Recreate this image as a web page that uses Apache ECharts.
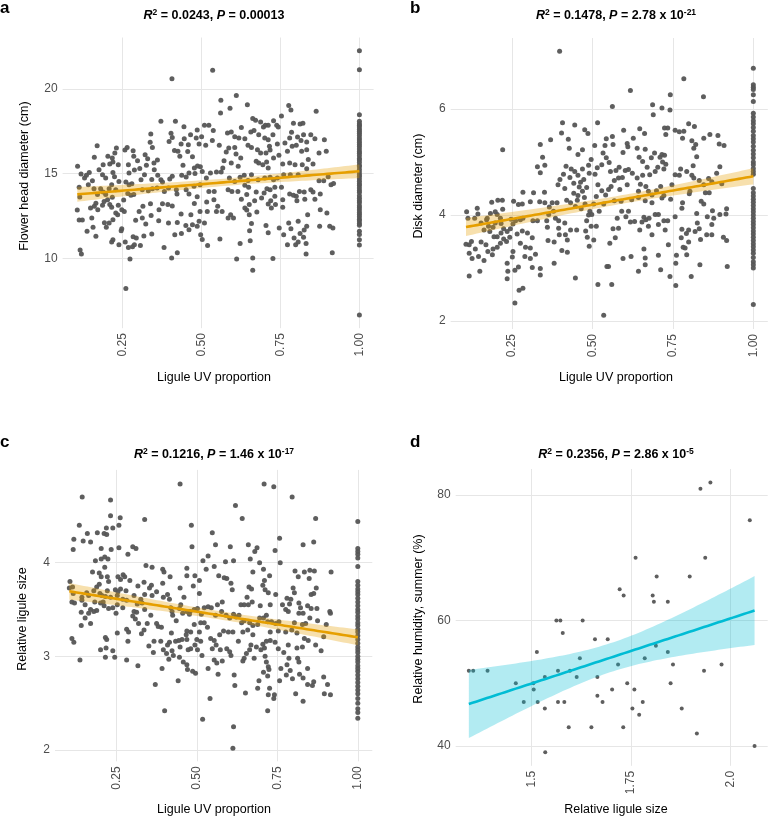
<!DOCTYPE html>
<html><head><meta charset="utf-8">
<script src="https://cdn.jsdelivr.net/npm/echarts@6/dist/echarts.min.js"></script>
<style>html,body{margin:0;padding:0;background:#fff}#c{width:768px;height:817px}</style>
</head><body><div id="c"></div>
<script>
// ---------- Panel a: Ligule UV proportion vs flower head diameter ----------
const aPts = [[0.535,21.1],[0.406,20.61],[0.371,18.09],[0.417,18.09],[0.339,17.34],[0.403,17.38],[0.407,17.14],[0.397,16.9],[0.444,17.77],[0.465,17.3],[0.486,17.58],[0.509,17.85],[0.523,17.85],[0.537,17.54],[0.5,17.18],[0.445,17.06],[0.483,17.1],[0.435,16.75],[0.458,16.71],[0.492,16.75],[0.513,16.67],[0.534,16.95],[0.337,16.85],[0.344,16.55],[0.414,16.36],[0.425,16.32],[0.431,16.02],[0.456,16.3],[0.471,16.0],[0.477,15.33],[0.487,15.45],[0.496,15.41],[0.502,15.13],[0.479,15.0],[0.46,15.04],[0.451,14.8],[0.441,15.49],[0.437,14.9],[0.515,14.74],[0.528,15.04],[0.547,15.1],[0.523,13.95],[0.54,13.95],[0.516,13.32],[0.518,12.77],[0.551,13.07],[0.509,12.08],[0.495,12.77],[0.492,12.18],[0.486,11.89],[0.466,12.57],[0.435,12.61],[0.423,12.12],[0.415,11.39],[0.423,10.33],[0.405,10.01],[0.381,10.64],[0.364,12.22],[0.376,13.22],[0.393,13.17],[0.407,13.09],[0.422,13.8],[0.42,14.05],[0.395,14.15],[0.382,13.95],[0.371,14.64],[0.361,14.9],[0.35,15.23],[0.349,15.63],[0.36,15.8],[0.329,15.88],[0.325,15.49],[0.321,16.12],[0.304,15.3],[0.297,15.76],[0.285,16.02],[0.283,16.35],[0.268,15.53],[0.264,16.55],[0.257,16.39],[0.23,16.51],[0.225,16.22],[0.217,15.92],[0.209,15.57],[0.219,15.06],[0.224,14.82],[0.236,15.53],[0.238,14.54],[0.26,14.5],[0.27,14.35],[0.279,14.4],[0.266,13.83],[0.276,13.72],[0.285,13.76],[0.312,14.05],[0.331,13.99],[0.344,14.11],[0.359,14.15],[0.314,13.07],[0.302,12.77],[0.291,12.24],[0.312,12.38],[0.323,12.02],[0.338,13.22],[0.34,12.53],[0.342,11.43],[0.317,11.31],[0.293,11.2],[0.283,11.27],[0.281,10.68],[0.268,10.64],[0.258,10.96],[0.287,10.8],[0.306,10.76],[0.273,9.95],[0.26,8.22],[0.255,12.77],[0.247,12.87],[0.236,13.13],[0.234,12.57],[0.228,12.67],[0.219,12.28],[0.215,13.01],[0.209,13.17],[0.207,12.08],[0.198,11.83],[0.247,11.75],[0.245,11.63],[0.219,11.1],[0.215,10.96],[0.238,10.8],[0.192,12.1],[0.191,13.36],[0.202,13.46],[0.196,13.76],[0.188,13.92],[0.18,14.11],[0.207,14.11],[0.215,14.35],[0.196,14.74],[0.186,14.94],[0.175,15.23],[0.188,15.53],[0.203,16.02],[0.219,15.69],[0.16,15.96],[0.169,16.65],[0.144,15.06],[0.135,14.9],[0.154,14.58],[0.141,14.35],[0.159,14.11],[0.17,13.76],[0.165,13.25],[0.148,12.97],[0.16,13.07],[0.171,12.87],[0.152,12.38],[0.156,11.83],[0.165,11.3],[0.137,11.59],[0.106,12.85],[0.112,12.26],[0.122,12.26],[0.115,10.49],[0.119,10.25],[0.107,15.43],[0.118,14.98],[0.112,14.19],[0.114,13.62],[0.129,14.74],[0.186,13.13],[0.228,14.05],[0.253,13.44],[0.217,13.6],[0.308,14.64],[0.319,14.94],[0.365,12.87],[0.395,12.08],[0.436,11.47],[0.45,11.94],[0.46,11.69],[0.471,11.98],[0.477,13.24],[0.486,13.64],[0.46,13.8],[0.451,14.05],[0.476,14.25],[0.495,14.35],[0.497,11.39],[0.502,11.11],[0.519,10.76],[0.539,13.46],[0.547,12.77],[0.376,14.5],[0.399,14.68],[0.407,14.84],[0.287,15.22],[0.342,14.66],[0.27,15.04],
[0.61,19.62],[0.561,19.33],[0.56,18.58],[0.59,18.86],[0.645,19.07],[0.776,19.03],[0.783,18.76],[0.863,18.68],[0.753,18.4],[0.662,18.25],[0.671,18.15],[0.687,18.05],[0.702,17.85],[0.711,17.85],[0.728,18.13],[0.738,17.85],[0.743,17.75],[0.696,17.75],[0.791,17.97],[0.812,17.93],[0.821,17.97],[0.785,17.44],[0.779,17.1],[0.804,17.16],[0.823,17.3],[0.846,17.3],[0.859,17.06],[0.889,17.0],[0.582,17.4],[0.594,17.46],[0.605,17.18],[0.618,17.1],[0.626,17.73],[0.637,17.06],[0.656,17.46],[0.666,17.54],[0.681,17.3],[0.647,16.67],[0.658,16.55],[0.605,16.55],[0.586,16.51],[0.578,16.28],[0.556,16.67],[0.609,16.16],[0.624,15.92],[0.616,15.43],[0.594,15.63],[0.571,15.76],[0.567,15.33],[0.562,15.1],[0.7,17.1],[0.711,17.0],[0.726,17.3],[0.74,16.75],[0.764,16.81],[0.715,16.61],[0.677,16.41],[0.687,16.22],[0.704,16.22],[0.717,16.39],[0.681,15.63],[0.673,15.73],[0.694,15.53],[0.706,15.69],[0.711,15.33],[0.728,15.92],[0.745,16.08],[0.757,15.57],[0.779,15.63],[0.796,15.53],[0.772,16.32],[0.787,16.61],[0.8,16.67],[0.817,16.32],[0.833,16.41],[0.815,16.95],[0.833,16.87],[0.872,16.22],[0.895,16.32],[0.838,15.83],[0.853,15.57],[0.833,15.29],[0.819,15.53],[0.806,14.94],[0.781,14.94],[0.76,14.94],[0.74,14.74],[0.728,14.64],[0.717,14.78],[0.7,14.74],[0.679,14.64],[0.658,14.94],[0.647,14.6],[0.635,14.9],[0.622,14.78],[0.605,14.54],[0.588,14.74],[0.584,14.05],[0.596,13.95],[0.615,13.95],[0.637,14.31],[0.649,14.19],[0.643,13.76],[0.673,13.92],[0.698,13.85],[0.707,14.11],[0.717,14.05],[0.732,14.19],[0.753,14.19],[0.779,13.8],[0.8,13.66],[0.81,13.95],[0.825,13.92],[0.846,14.05],[0.853,13.92],[0.876,13.8],[0.872,14.58],[0.887,14.58],[0.901,14.82],[0.91,14.35],[0.918,14.41],[0.791,13.72],[0.802,13.4],[0.827,13.48],[0.859,13.48],[0.719,13.4],[0.732,13.66],[0.711,13.21],[0.721,12.97],[0.734,13.17],[0.757,13.46],[0.757,13.01],[0.69,13.56],[0.668,13.4],[0.651,13.17],[0.626,13.48],[0.637,12.97],[0.643,12.85],[0.651,12.57],[0.675,12.73],[0.658,12.06],[0.652,11.63],[0.592,12.57],[0.601,12.38],[0.584,12.38],[0.565,12.77],[0.558,11.14],[0.622,10.88],[0.654,11.04],[0.611,9.96],[0.662,10.02],[0.662,9.29],[0.726,9.98],[0.704,11.94],[0.711,11.51],[0.746,11.79],[0.76,11.39],[0.772,10.8],[0.776,12.08],[0.783,11.75],[0.793,11.2],[0.798,10.8],[0.806,10.96],[0.806,12.18],[0.812,11.47],[0.825,11.67],[0.823,11.24],[0.831,10.88],[0.833,11.89],[0.831,10.25],[0.836,12.57],[0.874,11.89],[0.897,12.67],[0.906,11.89],[0.916,11.79],[0.914,10.33],[0.876,12.87]];
// samples with ligule UV proportion = 1.00
const aFull = [22.26,21.14,18.48,18.1,17.95,17.85,17.75,17.62,17.5,17.38,17.25,17.1,16.98,16.85,16.72,16.6,16.45,16.3,16.2,16.05,15.9,15.8,15.65,15.5,15.4,15.25,15.1,14.95,14.85,14.7,14.55,14.4,14.3,14.15,14.0,13.88,13.7,13.55,13.4,13.28,13.1,12.98,12.85,12.7,12.58,12.45,12.3,12.2,12.05,11.95,11.6,11.4,11.1,10.78,6.65];

// ---------- Panel b: Ligule UV proportion vs disk diameter ----------
const bPts = [[0.398,7.09],[0.221,5.23],[0.407,5.74],[0.445,5.7],[0.404,5.55],[0.425,5.43],[0.37,5.42],[0.338,5.33],[0.345,5.09],[0.329,4.91],[0.338,4.8],[0.352,4.94],[0.428,5.26],[0.455,5.14],[0.469,5.23],[0.476,5.61],[0.486,5.54],[0.516,5.74],[0.507,5.31],[0.533,5.17],[0.529,4.95],[0.418,4.92],[0.434,4.87],[0.445,4.82],[0.41,4.77],[0.399,4.67],[0.393,4.57],[0.414,4.5],[0.43,4.71],[0.455,4.75],[0.463,4.62],[0.473,4.67],[0.459,4.53],[0.469,4.45],[0.482,4.52],[0.49,4.79],[0.508,4.77],[0.517,4.57],[0.529,4.46],[0.541,4.38],[0.442,4.41],[0.455,4.37],[0.475,4.33],[0.42,4.28],[0.39,4.23],[0.375,4.23],[0.351,4.43],[0.336,4.25],[0.317,4.42],[0.284,4.43],[0.282,4.21],[0.27,4.2],[0.255,4.26],[0.22,4.28],[0.206,4.28],[0.187,4.24],[0.221,4.11],[0.198,4.06],[0.183,4.03],[0.173,3.94],[0.142,4.13],[0.144,4.02],[0.109,4.06],[0.113,3.94],[0.134,3.94],[0.154,3.85],[0.163,3.72],[0.171,3.91],[0.177,3.79],[0.191,3.77],[0.204,4.01],[0.214,3.94],[0.247,3.92],[0.261,3.89],[0.276,3.91],[0.284,3.94],[0.315,3.89],[0.329,3.89],[0.358,3.89],[0.364,4.01],[0.36,3.77],[0.379,4.07],[0.395,3.75],[0.397,3.63],[0.416,3.63],[0.432,3.72],[0.451,3.72],[0.422,3.53],[0.405,3.33],[0.422,3.3],[0.381,3.09],[0.338,2.99],[0.338,2.87],[0.292,3.39],[0.307,3.38],[0.29,3.22],[0.307,3.18],[0.276,3.47],[0.282,3.7],[0.298,3.66],[0.313,3.57],[0.266,3.64],[0.253,3.83],[0.245,3.74],[0.235,3.69],[0.224,3.74],[0.216,3.66],[0.204,3.59],[0.224,3.55],[0.214,3.47],[0.204,3.39],[0.233,3.5],[0.243,3.58],[0.253,3.31],[0.251,3.21],[0.235,3.09],[0.237,2.94],[0.235,2.8],[0.27,3.02],[0.259,2.96],[0.272,2.58],[0.284,2.62],[0.259,2.34],[0.189,3.25],[0.191,3.36],[0.175,3.31],[0.169,3.44],[0.154,3.49],[0.136,3.36],[0.124,3.5],[0.117,3.44],[0.107,3.45],[0.117,3.28],[0.126,3.18],[0.146,3.22],[0.163,3.14],[0.15,2.94],[0.117,2.85],[0.194,3.59],[0.181,3.69],[0.216,3.84],[0.198,3.85],[0.307,4.25],[0.352,4.23],[0.366,4.15],[0.385,3.94],[0.414,3.85],[0.362,3.52],[0.381,3.49],[0.313,3.01],[0.323,3.26],[0.447,2.81],[0.517,2.69],[0.535,2.11],[0.545,3.03],[0.395,3.89],[0.442,4.6],[0.492,4.07],[0.488,4.0],[0.482,3.89],[0.498,4.01],[0.479,3.7],[0.484,3.58],[0.49,3.41],[0.504,3.53],[0.496,3.79],[0.512,3.79],[0.477,4.21],[0.465,4.12],[0.447,4.16],[0.432,4.23],[0.453,4.28],[0.521,4.07],[0.504,4.21],[0.535,4.21],[0.512,4.35],[0.488,4.94],[0.469,4.87],[0.496,5.05],[0.515,4.89],[0.543,5.08],[0.539,5.31],[0.543,5.44],
[0.618,6.35],[0.784,6.57],[0.742,6.27],[0.845,6.23],[0.562,6.05],[0.687,6.08],[0.716,6.02],[0.741,5.98],[0.689,5.89],[0.799,5.72],[0.817,5.67],[0.724,5.64],[0.734,5.64],[0.757,5.6],[0.77,5.57],[0.784,5.58],[0.78,5.45],[0.662,5.54],[0.647,5.63],[0.597,5.6],[0.728,5.52],[0.846,5.45],[0.865,5.52],[0.89,5.5],[0.894,5.34],[0.909,5.31],[0.809,5.4],[0.821,5.33],[0.815,5.26],[0.562,5.48],[0.564,5.33],[0.595,5.18],[0.608,5.35],[0.61,5.29],[0.627,5.45],[0.639,5.26],[0.664,5.24],[0.645,5.09],[0.656,5.01],[0.67,4.9],[0.683,5.08],[0.693,5.17],[0.71,5.09],[0.716,5.14],[0.724,5.13],[0.718,5.0],[0.728,4.96],[0.722,4.87],[0.695,4.82],[0.703,4.9],[0.678,4.76],[0.656,4.75],[0.639,4.7],[0.624,4.79],[0.612,4.86],[0.602,4.84],[0.583,4.9],[0.573,4.84],[0.556,4.82],[0.552,4.99],[0.581,4.7],[0.593,4.71],[0.568,4.65],[0.558,4.54],[0.55,4.48],[0.585,4.48],[0.608,4.57],[0.649,4.58],[0.666,4.54],[0.643,4.45],[0.674,4.45],[0.699,4.46],[0.685,4.38],[0.712,4.54],[0.716,4.32],[0.722,4.37],[0.747,4.57],[0.757,4.76],[0.77,4.75],[0.793,4.82],[0.774,4.87],[0.809,4.75],[0.813,4.93],[0.824,5.1],[0.815,4.7],[0.832,4.65],[0.846,4.57],[0.861,4.69],[0.871,4.63],[0.886,4.79],[0.896,4.91],[0.902,4.59],[0.851,4.42],[0.863,4.42],[0.838,4.26],[0.846,4.21],[0.78,4.23],[0.778,4.13],[0.803,4.45],[0.801,4.4],[0.743,4.3],[0.824,4.03],[0.826,3.85],[0.873,4.08],[0.877,3.94],[0.896,4.01],[0.917,4.12],[0.915,4.02],[0.857,3.97],[0.871,3.82],[0.855,3.63],[0.871,3.63],[0.907,3.58],[0.917,3.52],[0.919,3.03],[0.834,3.06],[0.807,2.84],[0.759,2.67],[0.741,2.84],[0.761,3.24],[0.793,3.25],[0.788,3.38],[0.782,3.39],[0.799,3.49],[0.776,3.57],[0.792,3.65],[0.799,3.72],[0.778,3.73],[0.819,3.69],[0.832,3.74],[0.836,3.54],[0.757,3.97],[0.726,3.72],[0.734,3.89],[0.722,3.89],[0.705,4.01],[0.695,4.01],[0.676,3.94],[0.666,3.91],[0.654,3.87],[0.66,3.96],[0.674,3.79],[0.647,3.72],[0.631,3.88],[0.618,3.87],[0.604,3.97],[0.612,4.07],[0.591,4.07],[0.577,3.94],[0.564,3.74],[0.581,3.75],[0.571,3.57],[0.554,3.47],[0.589,4.26],[0.568,4.27],[0.622,4.29],[0.643,4.33],[0.664,4.27],[0.685,4.23],[0.705,3.82],[0.685,3.63],[0.66,3.36],[0.664,3.19],[0.664,3.06],[0.643,2.94],[0.705,3.24],[0.712,2.97],[0.62,3.22],[0.595,3.18],[0.55,3.03],[0.56,2.69],[0.759,3.09],[0.736,3.44]];
const bFull = [6.77,6.46,6.41,6.37,6.27,6.14,5.92,5.85,5.78,5.72,5.65,5.58,5.5,5.44,5.38,5.3,5.22,5.15,5.08,5.0,4.95,4.88,4.82,4.77,4.5,4.42,4.36,4.3,4.24,4.18,4.12,4.06,4.0,3.94,3.88,3.82,3.76,3.7,3.64,3.58,3.52,3.46,3.4,3.34,3.28,3.2,3.12,3.06,3.0,2.31];

// ---------- Panel c: Ligule UV proportion vs relative ligule size ----------
const cPts = [[0.448,4.84],[0.144,4.7],[0.232,4.67],[0.232,4.5],[0.262,4.48],[0.338,4.46],[0.135,4.4],[0.16,4.31],[0.191,4.32],[0.212,4.31],[0.22,4.3],[0.219,4.37],[0.239,4.37],[0.258,4.4],[0.483,4.4],[0.118,4.25],[0.147,4.23],[0.17,4.22],[0.116,4.14],[0.203,4.15],[0.234,4.14],[0.258,4.16],[0.301,4.17],[0.311,4.15],[0.485,4.17],[0.185,4.02],[0.203,4.04],[0.214,4.06],[0.224,4.04],[0.286,4.09],[0.342,3.97],[0.361,3.95],[0.394,3.93],[0.398,3.9],[0.469,3.94],[0.519,4.02],[0.535,4.07],[0.548,4.32],[0.529,3.93],[0.214,3.95],[0.176,3.9],[0.197,3.89],[0.203,3.85],[0.222,3.85],[0.226,3.8],[0.255,3.85],[0.263,3.82],[0.271,3.87],[0.276,3.85],[0.292,3.81],[0.317,3.75],[0.336,3.79],[0.359,3.76],[0.353,3.73],[0.394,3.78],[0.417,3.85],[0.469,3.86],[0.494,3.86],[0.489,3.75],[0.508,3.81],[0.448,3.73],[0.396,3.63],[0.409,3.66],[0.415,3.61],[0.46,3.63],[0.508,3.67],[0.106,3.8],[0.104,3.73],[0.114,3.74],[0.116,3.67],[0.143,3.63],[0.158,3.68],[0.164,3.65],[0.18,3.7],[0.189,3.74],[0.197,3.77],[0.199,3.67],[0.205,3.65],[0.216,3.64],[0.209,3.58],[0.222,3.7],[0.247,3.71],[0.255,3.69],[0.263,3.72],[0.28,3.7],[0.305,3.65],[0.326,3.61],[0.338,3.66],[0.33,3.57],[0.375,3.69],[0.419,3.52],[0.423,3.48],[0.446,3.51],[0.45,3.55],[0.425,3.44],[0.436,3.38],[0.456,3.46],[0.469,3.48],[0.479,3.48],[0.477,3.45],[0.492,3.5],[0.502,3.51],[0.514,3.45],[0.523,3.52],[0.535,3.53],[0.545,3.52],[0.523,3.36],[0.512,3.36],[0.492,3.34],[0.481,3.26],[0.469,3.27],[0.467,3.23],[0.508,3.26],[0.533,3.31],[0.543,3.19],[0.548,3.08],[0.512,3.16],[0.5,3.18],[0.494,3.12],[0.502,3.07],[0.516,3.01],[0.481,3.08],[0.473,3.07],[0.469,3.18],[0.454,3.18],[0.444,3.17],[0.448,3.1],[0.434,3.16],[0.421,3.25],[0.415,3.15],[0.409,3.12],[0.423,3.06],[0.406,3.03],[0.413,2.97],[0.427,3.01],[0.446,2.99],[0.458,2.94],[0.469,2.91],[0.471,2.86],[0.487,2.84],[0.496,2.82],[0.392,2.87],[0.396,3.07],[0.388,3.16],[0.38,3.32],[0.367,3.16],[0.351,3.11],[0.365,3.04],[0.375,3.35],[0.39,3.31],[0.357,3.44],[0.346,3.35],[0.328,3.24],[0.336,3.28],[0.319,3.35],[0.338,3.5],[0.313,3.47],[0.305,3.48],[0.301,3.43],[0.309,3.4],[0.282,3.29],[0.288,3.26],[0.286,3.16],[0.282,3.6],[0.27,3.61],[0.27,3.52],[0.253,3.55],[0.249,3.46],[0.239,3.52],[0.226,3.51],[0.212,3.54],[0.201,3.57],[0.189,3.49],[0.18,3.48],[0.17,3.5],[0.164,3.46],[0.153,3.55],[0.141,3.47],[0.143,3.6],[0.12,3.57],[0.112,3.58],[0.153,3.41],[0.17,3.35],[0.141,3.33],[0.216,3.2],[0.22,3.18],[0.218,3.09],[0.201,3.07],[0.216,2.99],[0.239,3.06],[0.245,2.99],[0.253,3.25],[0.282,2.96],[0.317,2.9],[0.112,3.19],[0.118,3.15],[0.137,2.96],[0.371,2.7],[0.4,2.42],[0.442,2.74],[0.518,2.33],[0.541,2.55],[0.535,2.87],[0.361,3.65],[0.315,3.56],[0.183,3.58],[0.253,3.65],[0.232,3.63],
[0.709,4.84],[0.739,4.81],[0.796,4.7],[0.62,4.61],[0.641,4.47],[0.869,4.47],[0.558,4.19],[0.604,4.17],[0.66,4.19],[0.68,4.12],[0.687,4.16],[0.743,4.13],[0.757,4.26],[0.759,4.0],[0.83,4.19],[0.863,4.22],[0.554,3.96],[0.589,4.01],[0.614,4.02],[0.666,4.04],[0.695,4.0],[0.674,3.9],[0.707,3.93],[0.726,3.86],[0.71,3.81],[0.805,3.91],[0.815,3.85],[0.834,3.9],[0.851,3.92],[0.865,3.91],[0.917,3.9],[0.849,3.83],[0.568,3.86],[0.585,3.84],[0.593,3.83],[0.606,3.78],[0.61,3.71],[0.662,3.74],[0.67,3.72],[0.705,3.76],[0.712,3.71],[0.722,3.68],[0.745,3.66],[0.656,3.63],[0.647,3.55],[0.66,3.55],[0.672,3.58],[0.697,3.54],[0.728,3.55],[0.799,3.73],[0.803,3.68],[0.871,3.73],[0.863,3.67],[0.855,3.66],[0.788,3.56],[0.792,3.61],[0.78,3.62],[0.766,3.55],[0.776,3.5],[0.784,3.48],[0.817,3.57],[0.822,3.52],[0.844,3.54],[0.855,3.51],[0.873,3.51],[0.817,3.46],[0.83,3.46],[0.851,3.41],[0.838,3.35],[0.828,3.34],[0.803,3.36],[0.875,3.38],[0.902,3.34],[0.913,3.48],[0.915,3.46],[0.564,3.55],[0.579,3.58],[0.577,3.48],[0.558,3.44],[0.591,3.44],[0.602,3.41],[0.614,3.45],[0.622,3.42],[0.631,3.44],[0.637,3.55],[0.639,3.36],[0.647,3.38],[0.664,3.36],[0.674,3.33],[0.689,3.34],[0.695,3.41],[0.707,3.41],[0.716,3.44],[0.72,3.37],[0.732,3.37],[0.745,3.35],[0.755,3.37],[0.753,3.27],[0.776,3.26],[0.795,3.28],[0.811,3.25],[0.834,3.19],[0.846,3.17],[0.828,3.1],[0.811,3.09],[0.784,3.12],[0.77,3.04],[0.753,3.08],[0.743,3.15],[0.728,3.17],[0.716,3.16],[0.705,3.13],[0.71,3.09],[0.699,3.07],[0.685,3.1],[0.668,3.12],[0.664,3.07],[0.654,3.03],[0.647,2.98],[0.643,2.95],[0.629,3.16],[0.612,3.26],[0.598,3.26],[0.583,3.27],[0.571,3.23],[0.554,3.17],[0.56,3.12],[0.573,3.07],[0.593,3.08],[0.602,3.05],[0.606,3.01],[0.554,2.96],[0.562,2.93],[0.579,2.95],[0.566,2.81],[0.616,2.8],[0.618,2.69],[0.651,2.61],[0.689,2.66],[0.693,2.74],[0.72,2.79],[0.726,2.66],[0.722,2.59],[0.741,2.59],[0.739,2.55],[0.72,2.42],[0.712,3.0],[0.716,2.94],[0.722,2.89],[0.724,2.86],[0.707,2.83],[0.761,2.87],[0.757,2.74],[0.78,2.91],[0.79,2.85],[0.778,2.8],[0.797,2.76],[0.813,2.98],[0.817,2.94],[0.819,2.81],[0.83,2.77],[0.844,2.87],[0.844,2.7],[0.859,2.69],[0.863,2.73],[0.807,2.6],[0.83,2.52],[0.894,2.78],[0.896,2.6],[0.906,2.7],[0.915,2.59],[0.869,3.12],[0.886,3.06],[0.894,3.21],[0.614,2.25],[0.612,2.02],[0.786,2.98],[0.728,3.26],[0.658,3.28],[0.674,3.23],[0.643,3.26],[0.678,2.98]];
const cFull = [4.44,4.15,4.12,4.09,4.05,3.96,3.8,3.76,3.72,3.69,3.66,3.62,3.58,3.54,3.5,3.47,3.43,3.4,3.36,3.33,3.29,3.26,3.22,3.18,3.14,3.1,3.07,3.04,3.0,2.97,2.94,2.9,2.87,2.84,2.8,2.76,2.72,2.68,2.64,2.6,2.55,2.5,2.44,2.4,2.34];

// ---------- Panel d: relative ligule size vs summer relative humidity ----------
const dLigule = [1.343,1.354,1.39,1.461,1.505,1.506,1.481,1.516,1.514,1.534,1.534,1.535,1.563,1.573,1.579,1.567,1.567,1.583,1.597,1.594,1.622,1.614,1.629,1.651,1.66,1.666,1.666,1.679,1.692,1.703,1.718,1.722,1.732,1.731,1.741,1.754,1.759,1.762,1.771,1.78,1.785,1.805,1.808,1.815,1.813,1.843,1.843,1.856,1.85,1.878,1.898,1.916,1.925,1.95,1.937,1.934,1.978,2.049,2.061];
const dHumid  = [52,52,52,50,50,49,47,47,55,51,46,39,60,60,58,52,47,47,52,43,54,51,60,43,57,51,48,47,57,49,53,65,64,43,50,46,49,70,45,47,54,64,63,67,56,63,55,53,50,46,67,42,81,82,70,52,53,76,40];

// ---------- axis settings ----------
const uvTicks = [0.25, 0.5, 0.75, 1.0];
const uvTickLabels = ['0.25', '0.50', '0.75', '1.00'];
const uvLim = [0.0595, 1.045];
const aYTicks = [10, 15, 20], aYLim = [5.87, 23.04];
const bYTicks = [2, 4, 6],    bYLim = [1.85, 7.34];
const cYTicks = [2, 3, 4],    cYLim = [1.88, 4.99];
const dXTicks = [1.5, 1.75, 2.0], dXTickLabels = ['1.5', '1.75', '2.0'], dXLim = [1.31, 2.094];
const dYTicks = [40, 60, 80], dYLim = [36.85, 84.15];

const titles = [
  {i1:'R', s1:'2', t1:' = 0.0243, ', i2:'P', t2:' = 0.00013', s2:''},
  {i1:'R', s1:'2', t1:' = 0.1478, ', i2:'P', t2:' = 2.78 x 10', s2:'-21'},
  {i1:'R', s1:'2', t1:' = 0.1216, ', i2:'P', t2:' = 1.46 x 10', s2:'-17'},
  {i1:'R', s1:'2', t1:' = 0.2356, ', i2:'P', t2:' = 2.86 x 10', s2:'-5'}
];
const letters = ['a', 'b', 'c', 'd'];
const xNames = ['Ligule UV proportion', 'Ligule UV proportion', 'Ligule UV proportion', 'Relative ligule size'];
const yNames = ['Flower head diameter (cm)', 'Disk diameter (cm)', 'Relative ligule size', 'Relative humidity, summer (%)'];

// ---------- build ----------
const FONT = '"Liberation Sans", Arial, Helvetica, sans-serif';
function withFull(pts, full) { return pts.concat(full.map(v => [1.0, v])); }
const aAll = withFull(aPts, aFull), bAll = withFull(bPts, bFull), cAll = withFull(cPts, cFull);
const dAll = dLigule.map((x, i) => [x, dHumid[i]]);

// linear model fit with 95% confidence band (as geom_smooth(method = "lm"))
function lmBand(pts) {
  const n = pts.length;
  let mx = 0, my = 0; pts.forEach(p => { mx += p[0]; my += p[1]; }); mx /= n; my /= n;
  let sxx = 0, sxy = 0; pts.forEach(p => { sxx += (p[0]-mx)*(p[0]-mx); sxy += (p[0]-mx)*(p[1]-my); });
  const b = sxy / sxx, a = my - b * mx;
  let sse = 0; pts.forEach(p => { const r = p[1] - a - b*p[0]; sse += r*r; });
  const s = Math.sqrt(sse / (n - 2));
  const t = n > 120 ? 1.965 : 2.002;
  let x0 = Infinity, x1 = -Infinity; pts.forEach(p => { x0 = Math.min(x0, p[0]); x1 = Math.max(x1, p[0]); });
  const out = [];
  for (let k = 0; k < 80; k++) {
    const x = x0 + (x1 - x0) * k / 79;
    const yh = a + b * x;
    const se = s * Math.sqrt(1/n + (x-mx)*(x-mx)/sxx);
    out.push([x, yh - t*se, yh + t*se, yh]);
  }
  return out;
}

const panels = [
  {pts:aAll, grid:{left:62.6, top:37.5, width:311, height:290.7}, xLim:uvLim, xTicks:uvTicks, xLab:uvTickLabels, yLim:aYLim, yTicks:aYTicks, col:'#E69F00', band:'rgba(230,159,0,0.32)', size:5},
  {pts:bAll, grid:{left:450.7, top:38, width:317.1, height:291}, xLim:uvLim, xTicks:uvTicks, xLab:uvTickLabels, yLim:bYLim, yTicks:bYTicks, col:'#E69F00', band:'rgba(230,159,0,0.32)', size:5},
  {pts:cAll, grid:{left:55, top:469.9, width:317.3, height:291.4}, xLim:uvLim, xTicks:uvTicks, xLab:uvTickLabels, yLim:cYLim, yTicks:cYTicks, col:'#E69F00', band:'rgba(230,159,0,0.32)', size:5},
  {pts:dAll, grid:{left:455.7, top:469, width:312, height:296.8}, xLim:dXLim, xTicks:dXTicks, xLab:dXTickLabels, yLim:dYLim, yTicks:dYTicks, col:'#00BCD4', band:'rgba(0,188,212,0.30)', size:4}
];

const grid = [], xAxis = [], yAxis = [], series = [];
panels.forEach((p, i) => {
  grid.push(Object.assign({containLabel:false}, p.grid));
  xAxis.push({
    gridIndex:i, type:'value', min:p.xLim[0], max:p.xLim[1],
    axisLine:{show:false}, axisTick:{show:false, customValues:p.xTicks},
    axisLabel:{customValues:p.xTicks, rotate:90, margin:5, fontSize:12, color:'#4d4d4d', fontFamily:FONT,
      formatter: v => { const k = p.xTicks.findIndex(t => Math.abs(t-v) < 1e-9); return k >= 0 ? p.xLab[k] : ''; }},
    splitLine:{show:true, lineStyle:{color:'#e6e6e6', width:1}}
  });
  yAxis.push({
    gridIndex:i, type:'value', min:p.yLim[0], max:p.yLim[1],
    axisLine:{show:false}, axisTick:{show:false, customValues:p.yTicks},
    axisLabel:{customValues:p.yTicks, margin:5, fontSize:12, color:'#4d4d4d', fontFamily:FONT},
    splitLine:{show:true, lineStyle:{color:'#e6e6e6', width:1}}
  });
  series.push({type:'scatter', xAxisIndex:i, yAxisIndex:i, data:p.pts, symbolSize:p.size,
    itemStyle:{color:'#555555', opacity:0.95}, z:2, silent:true});
  const band = lmBand(p.pts);
  series.push({type:'custom', xAxisIndex:i, yAxisIndex:i, data:band, z:3, silent:true,
    encode:{x:0, y:[1,2]},
    renderItem:(params, api) => {
      if (params.dataIndex !== 0) return null;
      const up = band.map(r => api.coord([r[0], r[2]]));
      const lo = band.slice().reverse().map(r => api.coord([r[0], r[1]]));
      return {type:'polygon', shape:{points:up.concat(lo)}, style:{fill:p.band}};
    }});
  series.push({type:'line', xAxisIndex:i, yAxisIndex:i, data:band.map(r => [r[0], r[3]]), showSymbol:false,
    lineStyle:{color:p.col, width:2.6}, z:4, silent:true});
});

const titlePos = [[214,16],[616,16],[214,455],[616,455]];
const letterPos = [[0,0],[410,0],[0,434],[410,434]];
const xNamePos = [[214,378],[616,378],[214,810],[616,810]];
const yNamePos = [[25,176],[419,186],[23,619],[419,619]];
const graphic = [];
const rich = {
  i:{fontFamily:FONT, fontSize:12.5, fontWeight:'bold', fontStyle:'italic', color:'#000'},
  t:{fontFamily:FONT, fontSize:12.5, fontWeight:'bold', color:'#000'},
  s:{fontFamily:FONT, fontSize:8.5, fontWeight:'bold', color:'#000', padding:[0,0,7,0]}
};
titles.forEach((tt, i) => {
  let txt = '{i|' + tt.i1 + '}{s|' + tt.s1 + '}{t|' + tt.t1 + '}{i|' + tt.i2 + '}{t|' + tt.t2 + '}';
  if (tt.s2) txt += '{s|' + tt.s2 + '}';
  graphic.push({type:'text', x:titlePos[i][0], y:titlePos[i][1], style:{text:txt, rich:rich, align:'center', verticalAlign:'middle'}});
  graphic.push({type:'text', x:letterPos[i][0], y:letterPos[i][1], style:{text:letters[i], font:'bold 17px ' + FONT, fill:'#000', align:'left', verticalAlign:'top'}});
  graphic.push({type:'text', x:xNamePos[i][0], y:xNamePos[i][1], style:{text:xNames[i], font:'12.5px ' + FONT, fill:'#000', align:'center', verticalAlign:'middle'}});
  graphic.push({type:'text', x:yNamePos[i][0], y:yNamePos[i][1], rotation:Math.PI/2, style:{text:yNames[i], font:'12.5px ' + FONT, fill:'#000', align:'center', verticalAlign:'middle'}});
});

const chart = echarts.init(document.getElementById('c'), null, {renderer:'canvas'});
chart.setOption({animation:false, backgroundColor:'#fff', grid, xAxis, yAxis, series, graphic});
</script></body></html>
